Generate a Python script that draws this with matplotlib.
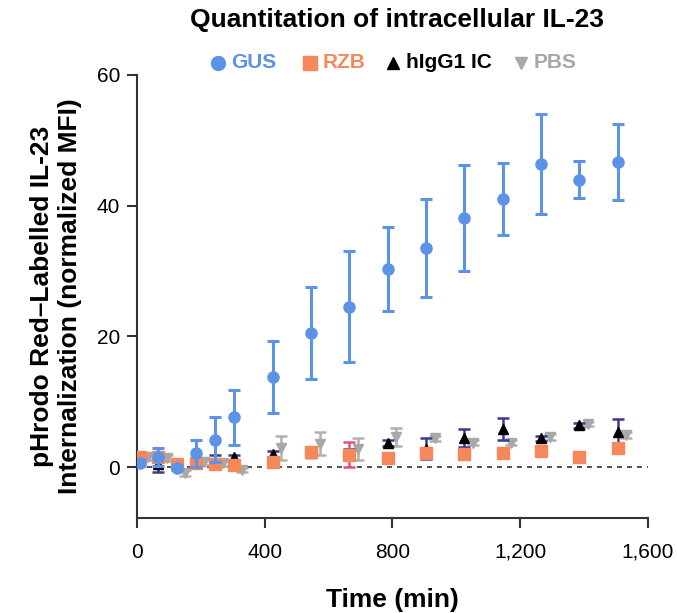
import matplotlib
matplotlib.use("Agg")
import matplotlib.pyplot as plt
from matplotlib.ticker import FuncFormatter
import numpy as np

plt.rcParams['font.family'] = ['Liberation Sans', 'DejaVu Sans']

# time points (min)
time = [10, 65, 125, 185, 245, 305, 425, 545, 665, 785, 905, 1025, 1145, 1265, 1385, 1505]
time_pbs = [35, 93, 150, 210, 270, 330, 452, 572, 692, 812, 932, 1052, 1172, 1292, 1412, 1532]

gus_mean = [0.6, 1.5, -0.1, 2.1, 4.2, 7.6, 13.8, 20.5, 24.5, 30.3, 33.5, 38.1, 41.0, 46.4, 44.0, 46.7]
gus_err = [0.5, 1.4, 0.4, 2.1, 3.5, 4.2, 5.5, 7.1, 8.5, 6.4, 7.5, 8.1, 5.5, 7.6, 2.8, 5.8]

rzb_mean = [1.6, 1.5, 0.5, 0.6, 0.5, 0.35, 0.7, 2.3, 1.9, 1.4, 2.2, 2.0, 2.2, 2.5, 1.6, 2.9]
rzb_err = [0.6, 0.5, 0.4, 0.4, 0.5, 0.3, 0.4, 0.5, 1.9, 0.4, 0.5, 0.4, 0.4, 0.4, 0.3, 0.4]

igg_mean = [1.2, 0.4, 0.3, 0.6, 0.8, 1.5, 2.0, 2.2, 2.0, 3.7, 2.8, 4.4, 5.8, 4.4, 6.4, 5.4]
igg_err = [0.5, 1.2, 0.4, 0.6, 1.0, 0.4, 0.4, 0.5, 0.8, 0.5, 1.6, 1.4, 1.7, 0.4, 0.4, 1.9]

pbs_mean = [1.5, 1.4, -0.9, 0.7, 0.6, -0.4, 2.9, 3.6, 2.8, 4.6, 4.4, 3.7, 3.7, 4.6, 6.6, 4.9]
pbs_err = [0.4, 0.4, 0.4, 0.4, 0.4, 0.3, 1.8, 1.8, 1.7, 1.4, 0.4, 0.4, 0.4, 0.4, 0.3, 0.4]

x_ticks = [0, 400, 800, 1200, 1600]
y_ticks = [0, 20, 40, 60]

c_gus = '#5B93E8'
c_rzb = '#F4885A'
c_igg = '#000000'
c_pbs = '#A8A8A8'

fig = plt.figure(figsize=(6.77, 6.13), dpi=100)
ax = fig.add_axes([137/677, 1-518/613, (648-137)/677, (518-75)/613])

ax.axhline(0, color='#333333', lw=1.2, ls=(0, (3, 3)), zorder=1)

ax.errorbar(time_pbs, pbs_mean, yerr=pbs_err, fmt='v', color=c_pbs, ms=7.5,
            ecolor='#B0B0B0', elinewidth=1.8, capsize=4, capthick=1.8, zorder=2)
ax.errorbar(time, igg_mean, yerr=igg_err, fmt='^', color=c_igg, ms=7.5,
            ecolor='#3A3A8C', elinewidth=1.8, capsize=4, capthick=1.8, zorder=3)
ax.errorbar(time, rzb_mean, yerr=rzb_err, fmt='s', color=c_rzb, ms=8.5,
            ecolor='#E8507A', elinewidth=1.8, capsize=4, capthick=1.8, zorder=4)
ax.errorbar(time, gus_mean, yerr=gus_err, fmt='o', color=c_gus, ms=8,
            ecolor=c_gus, elinewidth=2.2, capsize=4.5, capthick=2.2, zorder=5)

ax.set_xlim(0, 1600)
ax.set_ylim(-7.8, 60)
ax.set_xticks(x_ticks)
ax.set_yticks(y_ticks)
ax.xaxis.set_major_formatter(FuncFormatter(lambda v, p: f"{int(v):,}"))
for s in ['top', 'right']:
    ax.spines[s].set_visible(False)
for s in ['left', 'bottom']:
    ax.spines[s].set_linewidth(1.5)
    ax.spines[s].set_color('#333333')
ax.tick_params(axis='both', direction='out', length=7, width=1.5, color='#333333',
               labelsize=15)
ax.tick_params(axis='x', pad=11)
ax.tick_params(axis='y', pad=5)

ax.set_xlabel('Time (min)', fontsize=19, fontweight='bold', labelpad=19)
ax.set_ylabel('pHrodo Red\u2013Labelled IL-23\nInternalization (normalized MFI)',
              fontsize=19, fontweight='bold', labelpad=11, linespacing=1.2)

fig.text(397/677, 1-20/613, 'Quantitation of intracellular IL-23', ha='center', va='center',
         fontsize=19, fontweight='bold')

# legend row
leg_y = 1 - 63/613
items = [
    (218, 'o', c_gus, 'GUS', c_gus, 10),
    (310, 's', c_rzb, 'RZB', c_rzb, 9.5),
    (393, '^', c_igg, 'hIgG1 IC', c_igg, 9),
    (521, 'v', c_pbs, 'PBS', c_pbs, 9),
]
for xp, m, mc, lab, tc, ms in items:
    fig.lines.append(plt.Line2D([xp/677], [leg_y], marker=m, color=mc, ms=ms, ls='none',
                                transform=fig.transFigure))
    fig.text((xp + 13)/677, leg_y, lab, color=tc, fontsize=15, fontweight='bold',
             ha='left', va='center')

fig.savefig('out.png', dpi=100)
